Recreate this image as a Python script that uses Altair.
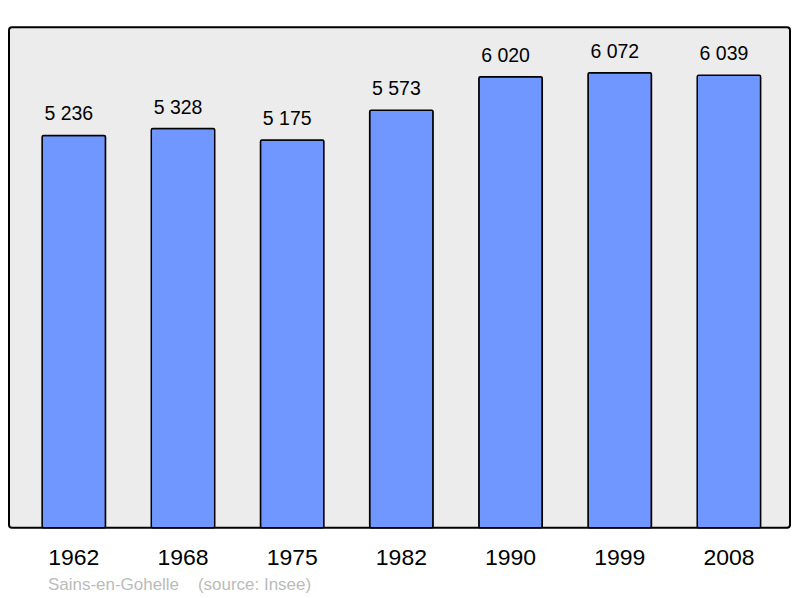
import altair as alt
import pandas as pd

years = ["1962", "1968", "1975", "1982", "1990", "1999", "2008"]
population = [5236, 5328, 5175, 5573, 6020, 6072, 6039]
labels = ["5 236", "5 328", "5 175", "5 573", "6 020", "6 072", "6 039"]

df = pd.DataFrame({"year": years, "pop": population, "label": labels})

FONT = "Liberation Sans"

x = alt.X(
    "year:N",
    sort=years,
    scale=alt.Scale(paddingInner=0.419, paddingOuter=0.286, align=0.53),
    axis=alt.Axis(
        title=None,
        domain=False,
        ticks=False,
        labelAngle=0,
        labelFont=FONT,
        labelFontSize=23,
        labelColor="#000000",
        labelBaseline="alphabetic",
        labelPadding=37,
    ),
)
y = alt.Y(
    "pop:Q",
    scale=alt.Scale(domain=[0, 6679], nice=False, zero=True),
    axis=None,
)

bars = alt.Chart(df).mark_bar(
    fill="#7097ff",
    stroke="#000000",
    strokeWidth=1.5,
    cornerRadius=1.5,
).encode(x=x, y=y)

text = alt.Chart(df).mark_text(
    font=FONT,
    fontSize=19.5,
    color="#000000",
    baseline="alphabetic",
    align="center",
    dy=-15,
    dx=-5,
).encode(x=x, y=y, text="label:N")

chart = (
    alt.layer(bars, text)
    .properties(
        width=782,
        height=501,
        padding={"left": 1, "top": 19, "right": 2, "bottom": 2},
        title=alt.TitleParams(
            text="Sains-en-Gohelle\u00a0\u00a0\u00a0\u00a0(source: Insee)",
            orient="bottom",
            anchor="start",
            font=FONT,
            fontSize=17,
            fontWeight="normal",
            color="#bbbbbb",
            baseline="alphabetic",
            dx=39,
            offset=20,
        ),
    )
    .configure(background="#ffffff")
    .configure_view(
        fill="#ececec",
        stroke="#000000",
        strokeWidth=2,
        cornerRadius=3,
    )
)

chart.save("out.html", embed_options={"renderer": "svg", "actions": False})
